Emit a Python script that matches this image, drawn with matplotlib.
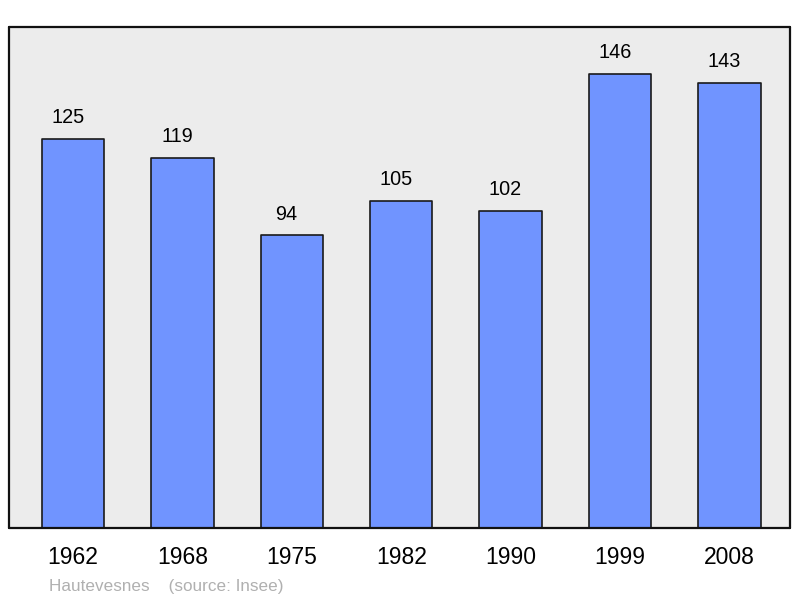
import matplotlib
matplotlib.use("Agg")
import matplotlib.pyplot as plt

years = ["1962", "1968", "1975", "1982", "1990", "1999", "2008"]
population = [125, 119, 94, 105, 102, 146, 143]
commune = "Hautevesnes"
source = "(source: Insee)"

plt.rcParams['font.family'] = ['Liberation Sans', 'DejaVu Sans']

fig = plt.figure(figsize=(8, 5.98), dpi=100)
ax = fig.add_axes([9 / 800, 70 / 598, 781 / 800, 501 / 598])
ax.set_facecolor('#ececec')

x = range(len(years))
bars = ax.bar(x, population, width=0.57, color='#7094ff', edgecolor='#1a1a1a',
              linewidth=1.2, zorder=2)
for b in bars:
    b.set_joinstyle('round')

# labels sit a little left of the bar centre in the original
for xi, v in zip(x, population):
    ax.annotate(str(v), (xi, v), xytext=(-3.8, 11.5), textcoords='offset points',
                ha='center', va='baseline', fontsize=14.3)

ax.set_xlim(-0.584, 6.553)
ax.set_ylim(0, 161)
ax.set_xticks(list(x))
ax.set_xticklabels(years, fontsize=16.5)
ax.tick_params(axis='x', length=0, pad=13)
ax.set_yticks([])
for s in ax.spines.values():
    s.set_linewidth(1.6)
    s.set_color('#111111')
    s.set_capstyle('round')

fig.text(49 / 800, 1 - 591 / 598, commune + "    " + source, fontsize=12.3,
         color='#b0b0b0', va='baseline', ha='left')

fig.savefig("out.png", dpi=100)
